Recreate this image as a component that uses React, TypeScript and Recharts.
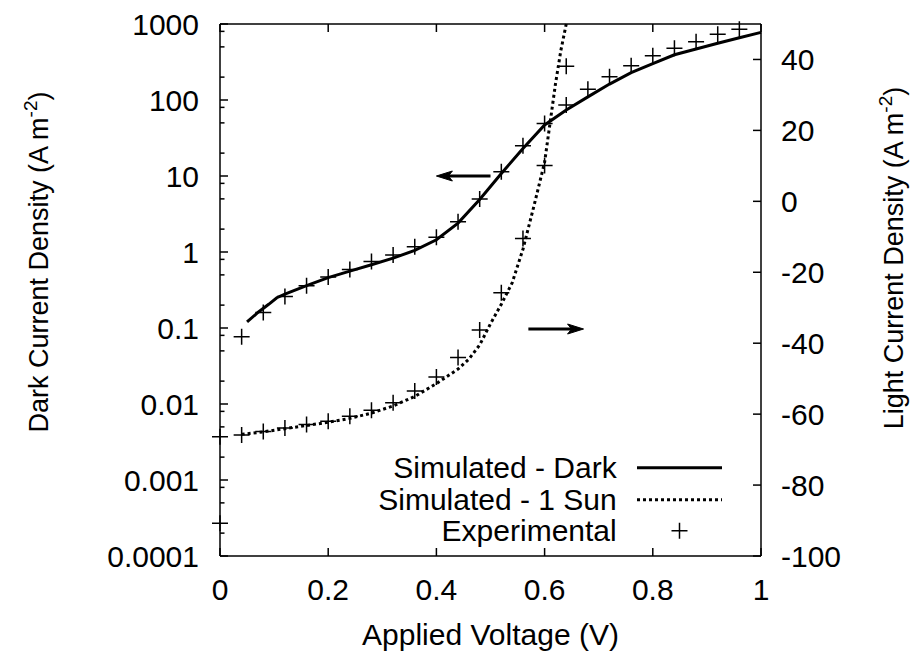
import React from "react";
import { ComposedChart, Line, XAxis, YAxis, ReferenceLine } from "recharts";

const FONT = "'Liberation Sans', Arial, Helvetica, sans-serif";
const FS = 30;
const W = 914;
const H = 652;
const PLOT_LEFT = 220;
const PLOT_RIGHT = 761;
const PLOT_TOP = 24;
const PLOT_BOTTOM = 556;

// axis ticks
const X_TICKS = [0, 0.2, 0.4, 0.6, 0.8, 1];
const DARK_MAJOR = [0.0001, 0.001, 0.01, 0.1, 1, 10, 100, 1000];
const DARK_MINOR_STEPS = [2, 5, 8];
const LIGHT_TICKS = [-100, -80, -60, -40, -20, 0, 20, 40];

// simulated dark current (A m^-2), log axis
const DARK_SIM_V = [0.05, 0.07, 0.09, 0.105, 0.12, 0.16, 0.2, 0.24, 0.28, 0.32, 0.36, 0.4, 0.44, 0.48, 0.52, 0.56, 0.6, 0.64, 0.68, 0.72, 0.76, 0.8, 0.84, 0.88, 0.92, 0.96, 1.0];
const DARK_SIM_J = [0.12, 0.16, 0.205, 0.25, 0.28, 0.36, 0.46, 0.56, 0.68, 0.83, 1.05, 1.45, 2.4, 4.9, 10.8, 23, 47, 74, 110, 162, 229, 301, 394, 469, 557, 660, 776];

// experimental dark current
const DARK_EXP_V = [0, 0.04, 0.08, 0.12, 0.16, 0.2, 0.24, 0.28, 0.32, 0.36, 0.4, 0.44, 0.48, 0.52, 0.56, 0.6, 0.64, 0.68, 0.72, 0.76, 0.8, 0.84, 0.88, 0.92, 0.96];
const DARK_EXP_J = [0.00027, 0.077, 0.16, 0.26, 0.36, 0.47, 0.59, 0.75, 0.91, 1.17, 1.56, 2.5, 5.0, 11.4, 25, 49, 86, 138, 203, 283, 383, 479, 585, 731, 851];

// simulated 1 sun current (A m^-2), linear right axis
const LIGHT_SIM_V = [0.04, 0.08, 0.12, 0.16, 0.2, 0.24, 0.28, 0.32, 0.36, 0.4, 0.44, 0.46, 0.48, 0.5, 0.52, 0.54, 0.56, 0.58, 0.6, 0.62, 0.63, 0.64];
const LIGHT_SIM_J = [-65.7, -65.0, -64.1, -63.2, -62.3, -61.2, -59.7, -57.7, -55.0, -51.4, -47.3, -44.5, -40.5, -34.5, -29, -23, -13.5, -1.5, 11, 33, 42.5, 50];

// experimental 1 sun current
const LIGHT_EXP_V = [0, 0.04, 0.08, 0.12, 0.16, 0.2, 0.24, 0.28, 0.32, 0.36, 0.4, 0.44, 0.48, 0.52, 0.56, 0.6, 0.64];
const LIGHT_EXP_J = [-66.4, -65.9, -64.9, -63.9, -62.9, -62.0, -60.6, -58.9, -56.8, -53.5, -49.5, -44.0, -36.3, -25.8, -10.5, 10.1, 38.1];

const darkTicks = [
  ...DARK_MAJOR,
  ...DARK_MAJOR.slice(0, -1).flatMap((m) => DARK_MINOR_STEPS.map((s) => m * s)),
].sort((a, b) => a - b);

const darkSim = DARK_SIM_V.map((v, i) => ({ v, j: DARK_SIM_J[i] }));
const darkExp = DARK_EXP_V.map((v, i) => ({ v, j: DARK_EXP_J[i] }));
const lightSim = LIGHT_SIM_V.map((v, i) => ({ v, j: LIGHT_SIM_J[i] }));
const lightExp = LIGHT_EXP_V.map((v, i) => ({ v, j: LIGHT_EXP_J[i] }));

const textStyle = { fontFamily: FONT, fontSize: FS, fill: "#000" };

function PlusDot(props: any) {
  const { cx, cy } = props;
  if (cx == null || cy == null || isNaN(cy)) return null;
  return (
    <path
      d={`M${cx - 8},${cy}H${cx + 8}M${cx},${cy - 8}V${cy + 8}`}
      stroke="#000"
      strokeWidth={1.5}
      fill="none"
    />
  );
}

function DarkTick(props: any) {
  const { y, payload } = props;
  const v = payload.value;
  const major = DARK_MAJOR.includes(v);
  return (
    <g>
      <line x1={PLOT_LEFT} x2={PLOT_LEFT + (major ? 8 : 4.5)} y1={y} y2={y} stroke="#000" strokeWidth={1.5} />
      {major && (
        <text x={PLOT_LEFT - 21} y={y} dy="0.36em" textAnchor="end" style={textStyle}>
          {String(v)}
        </text>
      )}
    </g>
  );
}

function LightTick(props: any) {
  const { y, payload } = props;
  return (
    <g>
      <line x1={PLOT_RIGHT} x2={PLOT_RIGHT - 8} y1={y} y2={y} stroke="#000" strokeWidth={1.5} />
      <text x={PLOT_RIGHT + 20} y={y} dy="0.36em" textAnchor="start" style={textStyle}>
        {String(payload.value)}
      </text>
    </g>
  );
}

function VoltTick(props: any) {
  const { x, payload } = props;
  return (
    <g>
      <line x1={x} x2={x} y1={PLOT_BOTTOM} y2={PLOT_BOTTOM - 8} stroke="#000" strokeWidth={1.5} />
      <line x1={x} x2={x} y1={PLOT_TOP} y2={PLOT_TOP + 8} stroke="#000" strokeWidth={1.5} />
      <text x={x} y={PLOT_BOTTOM + 33} dy="0.36em" textAnchor="middle" style={textStyle}>
        {String(payload.value)}
      </text>
    </g>
  );
}

function XTitle() {
  return (
    <text x={(PLOT_LEFT + PLOT_RIGHT) / 2} y={634} dy="0.36em" textAnchor="middle" style={textStyle}>
      Applied Voltage (V)
    </text>
  );
}

function YTitle({ px, py, name }: { px: number; py: number; name: string }) {
  return (
    <text
      x={px}
      y={py}
      dy="0.36em"
      textAnchor="middle"
      transform={`rotate(-90, ${px}, ${py})`}
      style={{ ...textStyle, fontSize: 27 }}
    >
      {name} Current Density (A m
      <tspan dy={-11} fontSize={19}>
        -2
      </tspan>
      <tspan dy={11}>)</tspan>
    </text>
  );
}

function Arrow(props: any) {
  const { x1, y1, x2, y2 } = props;
  const dir = Math.sign(x2 - x1);
  const hx = x2 - dir * 16;
  return (
    <g>
      <line x1={x1} y1={y1} x2={x2 - dir * 6} y2={y2} stroke="#000" strokeWidth={3} />
      <path d={`M${hx},${y2 - 5}L${x2},${y2}L${hx},${y2 + 5}L${hx + dir * 4},${y2}Z`} fill="#000" stroke="#000" strokeWidth={1} />
    </g>
  );
}

function LegendRow({ label, sample }: { label: string; sample: React.ReactNode }) {
  return (
    <div style={{ display: "flex", height: 31.5, alignItems: "center" }}>
      <div style={{ width: 366.7, textAlign: "right", whiteSpace: "nowrap" }}>{label}</div>
      <svg width={85} height={31.5} style={{ marginLeft: 20.3 }}>
        {sample}
      </svg>
    </div>
  );
}

export default function App() {
  return (
    <div style={{ position: "relative", width: W, height: H, fontFamily: FONT, overflow: "hidden" }}>
      <style>{"body{margin:0;overflow:hidden}"}</style>
      <ComposedChart width={W} height={H} margin={{ top: PLOT_TOP, right: 0, bottom: 0, left: 0 }}>
        <XAxis
          type="number"
          dataKey="v"
          domain={[0, 1]}
          ticks={X_TICKS}
          interval={0}
          height={H - PLOT_BOTTOM}
          tickLine={false}
          axisLine={{ stroke: "#000", strokeWidth: 1.5 }}
          tick={<VoltTick />}
          label={<XTitle />}
        />
        <YAxis
          yAxisId="dark"
          scale="log"
          domain={[0.0001, 1000]}
          ticks={darkTicks}
          interval={0}
          width={PLOT_LEFT}
          tickLine={false}
          axisLine={{ stroke: "#000", strokeWidth: 1.5 }}
          tick={<DarkTick />}
          label={<YTitle px={38} py={262} name="Dark" />}
        />
        <YAxis
          yAxisId="light"
          orientation="right"
          domain={[-100, 50]}
          ticks={LIGHT_TICKS}
          interval={0}
          width={W - PLOT_RIGHT}
          tickLine={false}
          axisLine={{ stroke: "#000", strokeWidth: 1.5 }}
          tick={<LightTick />}
          label={<YTitle px={893} py={258} name="Light" />}
        />
        <ReferenceLine yAxisId="dark" y={1000} stroke="#000" strokeWidth={1.5} />
        <ReferenceLine
          yAxisId="dark"
          segment={[{ x: 0.5, y: 10 }, { x: 0.4, y: 10 }]}
          shape={<Arrow />}
        />
        <ReferenceLine
          yAxisId="light"
          segment={[{ x: 0.57, y: -36 }, { x: 0.672, y: -36 }]}
          shape={<Arrow />}
        />
        <Line
          yAxisId="dark"
          data={darkSim}
          dataKey="j"
          type="linear"
          stroke="#000"
          strokeWidth={3}
          dot={false}
          isAnimationActive={false}
        />
        <Line
          yAxisId="light"
          data={lightSim}
          dataKey="j"
          type="linear"
          stroke="#000"
          strokeWidth={3}
          strokeDasharray="3 3"
          dot={false}
          isAnimationActive={false}
        />
        <Line
          yAxisId="dark"
          data={darkExp}
          dataKey="j"
          stroke="none"
          dot={<PlusDot />}
          activeDot={false}
          isAnimationActive={false}
        />
        <Line
          yAxisId="light"
          data={lightExp}
          dataKey="j"
          stroke="none"
          dot={<PlusDot />}
          activeDot={false}
          isAnimationActive={false}
        />
      </ComposedChart>
      <div
        style={{
          position: "absolute",
          left: 250,
          top: 452,
          fontSize: FS,
          lineHeight: "31.5px",
          color: "#000",
        }}
      >
        <LegendRow
          label="Simulated - Dark"
          sample={<line x1={0} x2={85} y1={15.75} y2={15.75} stroke="#000" strokeWidth={3} />}
        />
        <LegendRow
          label="Simulated - 1 Sun"
          sample={<line x1={0} x2={85} y1={15.75} y2={15.75} stroke="#000" strokeWidth={3} strokeDasharray="3 3" />}
        />
        <LegendRow label="Experimental" sample={<PlusDot cx={42.5} cy={15.75} />} />
      </div>
    </div>
  );
}
